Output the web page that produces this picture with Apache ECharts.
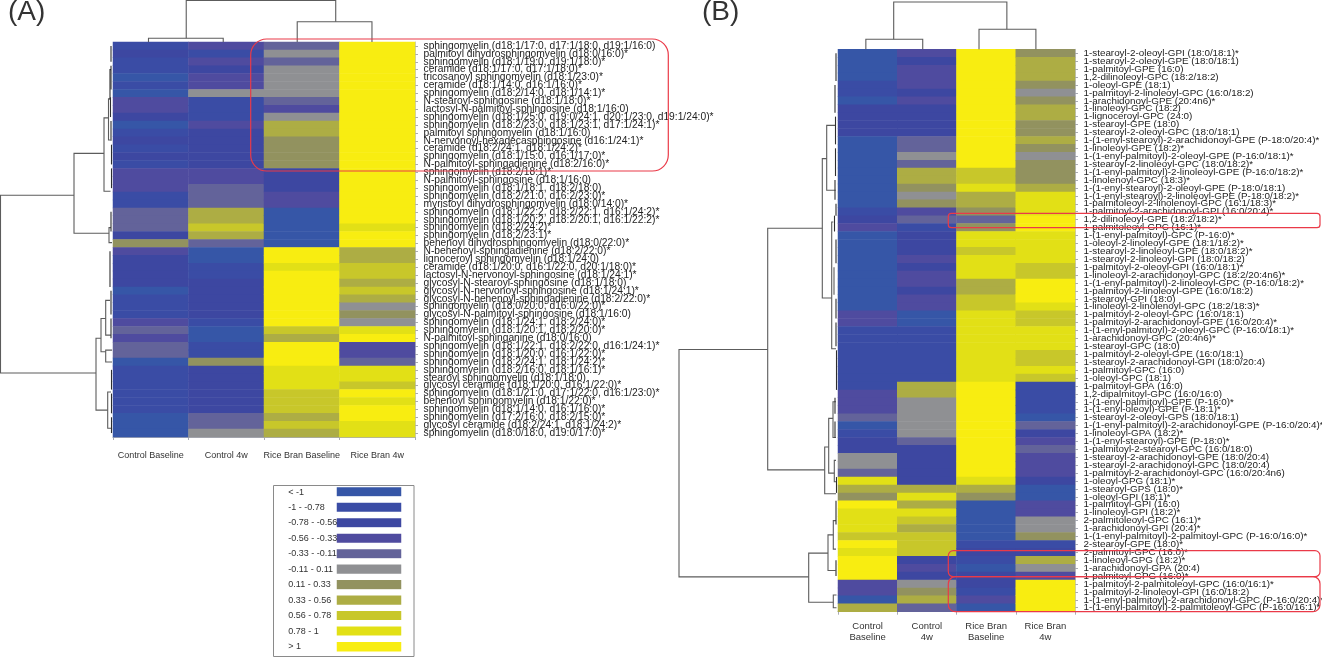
<!DOCTYPE html>
<html><head><meta charset="utf-8">
<style>html,body{margin:0;padding:0;background:#fff}#c{width:1322px;height:665px}</style>
<script src="https://cdn.jsdelivr.net/npm/echarts@6/dist/echarts.min.js"></script>
</head><body><div id="c"></div>
<script>
// Legend bins (label, lower edge, upper edge, representative z-score, colour)
const binLabels = ['< -1','-1 - -0.78','-0.78 - -0.56','-0.56 - -0.33','-0.33 - -0.11','-0.11 - 0.11','0.11 - 0.33','0.33 - 0.56','0.56 - 0.78','0.78 - 1','> 1'];
const binEdges = [-9,-1,-0.78,-0.56,-0.33,-0.11,0.11,0.33,0.56,0.78,1,9];
const binMids = [-1.2,-0.89,-0.67,-0.45,-0.22,0,0.22,0.45,0.67,0.89,1.2];
const binColors = ['#3656a7','#3a4ca5','#3d47a1','#4f4b9f','#63639a','#8f9093','#92925f','#adad44','#c8c72a','#e2e016','#f8ed11'];

const columnsA = ['Control Baseline','Control 4w','Rice Bran Baseline','Rice Bran 4w'];
const columnsB = ['Control\nBaseline','Control\n4w','Rice Bran\nBaseline','Rice Bran\n4w'];

const lipidsA = [
'sphingomyelin (d18:1/17:0, d17:1/18:0, d19:1/16:0)','palmitoyl dihydrosphingomyelin (d18:0/16:0)*','sphingomyelin (d18:1/19:0, d19:1/18:0)*','ceramide (d18:1/17:0, d17:1/18:0)*','tricosanoyl sphingomyelin (d18:1/23:0)*','ceramide (d18:1/14:0, d16:1/16:0)*','sphingomyelin (d18:2/14:0, d18:1/14:1)*','N-stearoyl-sphingosine (d18:1/18:0)*','lactosyl-N-palmitoyl-sphingosine (d18:1/16:0)','sphingomyelin (d18:1/25:0, d19:0/24:1, d20:1/23:0, d19:1/24:0)*',
'sphingomyelin (d18:2/23:0, d18:1/23:1, d17:1/24:1)*','palmitoyl sphingomyelin (d18:1/16:0)','N-nervonoyl-hexadecasphingosine (d16:1/24:1)*','ceramide (d18:2/24:1, d18:1/24:2)*','sphingomyelin (d18:1/15:0, d16:1/17:0)*','N-palmitoyl-sphingadienine (d18:2/16:0)*','sphingomyelin (d18:2/18:1)*','N-palmitoyl-sphingosine (d18:1/16:0)','sphingomyelin (d18:1/18:1, d18:2/18:0)','sphingomyelin (d18:2/21:0, d16:2/23:0)*',
'myristoyl dihydrosphingomyelin (d18:0/14:0)*','sphingomyelin (d18:1/22:2, d18:2/22:1, d16:1/24:2)*','sphingomyelin (d18:1/20:2, d18:2/20:1, d16:1/22:2)*','sphingomyelin (d18:2/24:2)*','sphingomyelin (d18:2/23:1)*','behenoyl dihydrosphingomyelin (d18:0/22:0)*','N-behenoyl-sphingadienine (d18:2/22:0)*','lignoceroyl sphingomyelin (d18:1/24:0)','ceramide (d18:1/20:0, d16:1/22:0, d20:1/18:0)*','lactosyl-N-nervonoyl-sphingosine (d18:1/24:1)*',
'glycosyl-N-stearoyl-sphingosine (d18:1/18:0)','glycosyl-N-nervonoyl-sphingosine (d18:1/24:1)*','glycosyl-N-behenoyl-sphingadienine (d18:2/22:0)*','sphingomyelin (d18:0/20:0, d16:0/22:0)*','glycosyl-N-palmitoyl-sphingosine (d18:1/16:0)','sphingomyelin (d18:1/24:1, d18:2/24:0)*','sphingomyelin (d18:1/20:1, d18:2/20:0)*','N-palmitoyl-sphinganine (d18:0/16:0)','sphingomyelin (d18:1/22:1, d18:2/22:0, d16:1/24:1)*','sphingomyelin (d18:1/20:0, d16:1/22:0)*',
'sphingomyelin (d18:2/24:1, d18:1/24:2)*','sphingomyelin (d18:2/16:0, d18:1/16:1)*','stearoyl sphingomyelin (d18:1/18:0)','glycosyl ceramide (d18:1/20:0, d16:1/22:0)*','sphingomyelin (d18:1/21:0, d17:1/22:0, d16:1/23:0)*','behenoyl sphingomyelin (d18:1/22:0)*','sphingomyelin (d18:1/14:0, d16:1/16:0)*','sphingomyelin (d17:2/16:0, d18:2/15:0)*','glycosyl ceramide (d18:2/24:1, d18:1/24:2)*','sphingomyelin (d18:0/18:0, d19:0/17:0)*'];

// Panel A: legend-bin index read per row, one list per column
const controlBaselineA = [1,2,1,1,0,1,0,3,3,2,0,1,2,1,2,1,3,3,3,1,1,4,4,4,2,6,3,2,2,2,2,0,1,1,1,3,4,3,4,4,0,1,1,1,1,1,1,0,0,0];
const control4wA       = [3,1,3,2,3,3,5,1,1,1,3,2,2,2,2,2,3,3,4,4,4,7,7,8,7,4,0,0,1,1,2,2,2,2,2,1,0,0,1,1,6,2,2,2,2,2,2,4,4,5];
const riceBaselineA    = [4,5,4,5,5,5,5,4,3,5,7,7,6,6,6,6,2,2,2,3,3,0,0,0,0,0,10,10,9,10,10,10,10,10,10,10,8,7,10,10,10,9,9,9,8,8,8,7,8,7];
const rice4wA          = [10,10,10,10,10,10,10,10,10,10,10,10,10,10,10,10,10,10,10,10,10,10,10,9,10,10,7,7,8,8,7,8,7,5,6,5,9,10,3,3,4,9,9,8,10,9,10,10,9,9];

const lipidsB = [
'1-stearoyl-2-oleoyl-GPI (18:0/18:1)*','1-stearoyl-2-oleoyl-GPE (18:0/18:1)','1-palmitoyl-GPE (16:0)','1,2-dilinoleoyl-GPC (18:2/18:2)','1-oleoyl-GPE (18:1)','1-palmitoyl-2-linoleoyl-GPC (16:0/18:2)','1-arachidonoyl-GPE (20:4n6)*','1-linoleoyl-GPC (18:2)','1-lignoceroyl-GPC (24:0)','1-stearoyl-GPE (18:0)',
'1-stearoyl-2-oleoyl-GPC (18:0/18:1)','1-(1-enyl-stearoyl)-2-arachidonoyl-GPE (P-18:0/20:4)*','1-linoleoyl-GPE (18:2)*','1-(1-enyl-palmitoyl)-2-oleoyl-GPE (P-16:0/18:1)*','1-stearoyl-2-linoleoyl-GPC (18:0/18:2)*','1-(1-enyl-palmitoyl)-2-linoleoyl-GPE (P-16:0/18:2)*','1-linolenoyl-GPC (18:3)*','1-(1-enyl-stearoyl)-2-oleoyl-GPE (P-18:0/18:1)','1-(1-enyl-stearoyl)-2-linoleoyl-GPE (P-18:0/18:2)*','1-palmitoleoyl-2-linolenoyl-GPC (16:1/18:3)*',
'1-palmitoyl-2-arachidonoyl-GPI (16:0/20:4)*','1,2-dilinoleoyl-GPE (18:2/18:2)*','1-palmitoleoyl-GPC (16:1)*','1-(1-enyl-palmitoyl)-GPC (P-16:0)*','1-oleoyl-2-linoleoyl-GPE (18:1/18:2)*','1-stearoyl-2-linoleoyl-GPE (18:0/18:2)*','1-stearoyl-2-linoleoyl-GPI (18:0/18:2)','1-palmitoyl-2-oleoyl-GPI (16:0/18:1)*','1-linoleoyl-2-arachidonoyl-GPC (18:2/20:4n6)*','1-(1-enyl-palmitoyl)-2-linoleoyl-GPC (P-16:0/18:2)*',
'1-palmitoyl-2-linoleoyl-GPE (16:0/18:2)','1-stearoyl-GPI (18:0)','1-linoleoyl-2-linolenoyl-GPC (18:2/18:3)*','1-palmitoyl-2-oleoyl-GPC (16:0/18:1)','1-palmitoyl-2-arachidonoyl-GPE (16:0/20:4)*','1-(1-enyl-palmitoyl)-2-oleoyl-GPC (P-16:0/18:1)*','1-arachidonoyl-GPC (20:4n6)*','1-stearoyl-GPC (18:0)','1-palmitoyl-2-oleoyl-GPE (16:0/18:1)','1-stearoyl-2-arachidonoyl-GPI (18:0/20:4)',
'1-palmitoyl-GPC (16:0)','1-oleoyl-GPC (18:1)','1-palmitoyl-GPA (16:0)','1,2-dipalmitoyl-GPC (16:0/16:0)','1-(1-enyl-palmitoyl)-GPE (P-16:0)*','1-(1-enyl-oleoyl)-GPE (P-18:1)*','1-stearoyl-2-oleoyl-GPS (18:0/18:1)','1-(1-enyl-palmitoyl)-2-arachidonoyl-GPE (P-16:0/20:4)*','1-linoleoyl-GPA (18:2)*','1-(1-enyl-stearoyl)-GPE (P-18:0)*',
'1-palmitoyl-2-stearoyl-GPC (16:0/18:0)','1-stearoyl-2-arachidonoyl-GPE (18:0/20:4)','1-stearoyl-2-arachidonoyl-GPC (18:0/20:4)','1-palmitoyl-2-arachidonoyl-GPC (16:0/20:4n6)','1-oleoyl-GPG (18:1)*','1-stearoyl-GPS (18:0)*','1-oleoyl-GPI (18:1)*','1-palmitoyl-GPI (16:0)','1-linoleoyl-GPI (18:2)*','2-palmitoleoyl-GPC (16:1)*',
'1-arachidonoyl-GPI (20:4)*','1-(1-enyl-palmitoyl)-2-palmitoyl-GPC (P-16:0/16:0)*','2-stearoyl-GPE (18:0)*','2-palmitoyl-GPC (16:0)*','1-linoleoyl-GPG (18:2)*','1-arachidonoyl-GPA (20:4)','1-palmitoyl-GPG (16:0)*','1-palmitoyl-2-palmitoleoyl-GPC (16:0/16:1)*','1-palmitoyl-2-linoleoyl-GPI (16:0/18:2)','1-(1-enyl-palmitoyl)-2-arachidonoyl-GPC (P-16:0/20:4)*',
'1-(1-enyl-palmitoyl)-2-palmitoleoyl-GPC (P-16:0/16:1)*'];

// Panel B: legend-bin index read per row, one list per column
const controlBaselineB = [0,0,0,0,1,1,0,2,2,2,2,0,0,0,0,0,0,0,0,0,1,2,3,0,0,0,0,0,0,0,0,0,0,3,3,1,1,1,1,1,1,1,1,3,3,3,4,0,1,2,2,5,5,4,9,7,6,10,9,9,9,8,10,9,10,10,10,3,3,0,7];
const control4wB       = [3,2,3,3,3,2,3,2,2,2,2,4,4,5,4,7,7,6,5,6,3,4,1,2,2,2,3,2,3,3,2,3,3,0,0,1,1,1,1,1,1,1,7,7,5,5,5,5,5,4,2,2,2,2,2,7,9,7,9,8,7,8,8,8,2,3,2,5,6,7,4];
const riceBaselineB    = [10,10,10,10,10,10,10,10,10,10,10,10,10,10,10,8,8,9,7,7,6,4,6,9,9,8,9,9,9,7,7,8,8,9,9,9,9,9,9,9,9,9,10,10,10,10,10,10,10,10,10,10,10,10,9,7,6,0,0,0,0,0,1,2,1,0,2,2,1,3,0];
const rice4wB          = [6,7,7,7,6,5,6,7,7,6,6,7,6,5,6,6,6,7,9,9,9,10,10,9,9,9,9,8,8,10,10,10,9,8,8,9,9,9,8,8,9,8,1,1,1,1,0,4,2,3,4,3,3,3,2,0,0,3,3,5,5,6,1,2,7,5,3,10,10,10,10];

// Dendrogram brackets: [bar height, from, to, arm-end height at from, arm-end height at to]
const rowTreeA = [[112.5,19.4,41.9,39,17],[39,14.1,24.2,9,4],[9,9.6,18.9,4.5,2.5],[4.5,7.2,12.4,3,2.5],[3,3.5,7.2,2,2],[4,23.5,25.4,2,1],
 [17,37.5,46.6,12,5.3],[12,35,39.2,7.3,7.3],[7.3,32.7,37.1,3,2],[7.3,39,40.5,1,1],[5.3,44.3,48.9,2,2],
 [2,0.5,2.5,2,2],[2,3,6,2,2],[2.5,7,9.5,2.5,2.5],[2,10,12.5,2,2],[1.5,13,15.5,1.5,1.5],[1.5,16,18.5,1.5,1.5],[2,21.5,24,2,2],[3,26.5,31,3,3],[2,31.5,34.5,2,2],[2,35,37.5,2,2],[1.5,41.5,44,1.5,1.5],[1.5,44.5,47,1.5,1.5],[1.5,47.5,49.5,1.5,1.5]];
const rowTreeB = [[159,37.9,66.6,70.3,29.3],[70.3,22.6,53.1,15.7,13.3],[15.7,13.8,31.4,11.3,6.3],[11.3,9.6,17.8,2.3,2.3],[6.3,21.8,37.8,4.7,2],
 [13.3,50.2,56.1,9.3,2],[9.3,46.6,53.5,5,3.7],[5,44.5,49,2,2],[3.7,51.9,54.6,2,2],[29.3,63.6,69.8,10,4.7],[10,61.3,65.8,4.7,2.3],[4.7,59.5,63.1,2,2],[4.7,68.9,70.5,1.5,1.5],
 [2,0.5,4,2,2],[3,4.5,8,3,3],[2.5,8.5,12,2.5,2.5],[2.5,12.5,16,2.5,2.5],[3,16.5,19,3,3],[2,19.5,21,2,2],[3.5,21,23,3.5,3.5],[2,24,27,2,2],[4,27.5,31,4,4],[2,31.5,34,2,2],[2,34.5,37.5,2,2],[1.5,38,43,1.5,1.5],[3,44,46,3,3],[3,47,49,3,3],[1.5,54,56,1.5,1.5],[2,57,60,2,2],[2,64.5,66.5,2,2]];
const colTreeA = [[3.7,0.47,1.46,0,0],[41.5,0.97,2.95,3.7,20.3],[20.3,2.44,3.43,0,0]];
const colTreeB = [[10,0.47,1.43,0,0],[47.3,0.94,2.85,10,20],[20,2.38,3.34,0,0]];

function cells(cols){
  const out=[];
  cols.forEach((col,c)=>col.forEach((b,r)=>out.push([c,r,binMids[b]])));
  return out;
}
const font='"Liberation Sans",Arial,sans-serif';
const noBounds={containLabel:false,outerBoundsMode:'none'};

function panel(idx,gridBox,cols,rows,columns,labelSize,labelMargin,xMargin,xSize){
  return {
    grid:Object.assign({},noBounds,gridBox),
    x:{type:'category',gridIndex:idx,data:columns,position:'bottom',boundaryGap:true,
       axisLine:{onZero:false,lineStyle:{color:'#a9abb5',width:1}},
       axisTick:{show:true,length:3,alignWithLabel:false,interval:0,lineStyle:{color:'#a9abb5'}},
       axisLabel:{fontFamily:font,fontSize:xSize,color:'#333',margin:xMargin,interval:0,lineHeight:10.7},splitLine:{show:false}},
    y:{type:'category',gridIndex:idx,data:rows,position:'right',inverse:true,boundaryGap:true,
       axisLine:{show:true,onZero:false,lineStyle:{color:'#c5c7cc',width:1}},
       axisTick:{show:true,length:3,alignWithLabel:true,interval:0,lineStyle:{color:'#a9abb5'}},
       axisLabel:{fontFamily:font,fontSize:labelSize,color:'#222',margin:labelMargin,interval:0,hideOverlap:false},splitLine:{show:false}},
    s:{type:'heatmap',xAxisIndex:idx,yAxisIndex:idx,data:cells(cols),progressive:0,silent:true,itemStyle:{borderWidth:0},emphasis:{disabled:true}}
  };
}
const A=panel(0,{left:113,top:42,width:302,height:395},[controlBaselineA,control4wA,riceBaselineA,rice4wA],lipidsA,columnsA,10.25,8.5,13,9);
const B=panel(1,{left:838,top:49.3,width:237,height:562.4},[controlBaselineB,control4wB,riceBaselineB,rice4wB],lipidsB,columnsB,9.85,8.5,9.5,9.5);

// Legend drawn as a single-column heatmap so swatches share the colour scale
const legendGrid=Object.assign({},noBounds,{left:333.8,top:484.3,width:70.4,height:170.2});
const legendX={type:'category',gridIndex:2,data:['bin'],show:false};
const legendY={type:'category',gridIndex:2,data:binLabels,inverse:true,position:'left',z:8,
  axisLine:{show:false},axisTick:{show:false},
  axisLabel:{fontFamily:font,fontSize:9,color:'#333',align:'left',margin:45.5,interval:0,overflow:'none'}};
const legendSeries={type:'heatmap',xAxisIndex:2,yAxisIndex:2,silent:true,data:binMids.map((v,i)=>[0,i,v]),
  itemStyle:{borderColor:'#fff',borderWidth:6.4},emphasis:{disabled:true}};

function hiddenValue(idx,min,max,inverse){return {type:'value',gridIndex:idx,min,max,inverse,show:false,scale:true};}
function treeSeries(idx,data,horizontal){
  return {type:'custom',xAxisIndex:idx,yAxisIndex:idx,silent:true,clip:false,data,
    encode:{x:0,y:1},
    renderItem(p,api){
      const h=api.value(0),a=api.value(1),b=api.value(2),ha=api.value(3),hb=api.value(4);
      const pts=(horizontal?[[ha,a],[h,a],[h,b],[hb,b]]:[[a,ha],[a,h],[b,h],[b,hb]]).map(q=>api.coord(q));
      return {type:'polyline',shape:{points:pts},style:{fill:null,stroke:h<=3.5?'#2e2e2e':'#5c5c5c',lineWidth:1.1}};
    }};
}
// dendrogram grids
const treeGrids=[
 {left:0,top:42,width:113,height:395},
 {left:679,top:49.3,width:159,height:562.4},
 {left:113,top:0,width:302,height:42},
 {left:838,top:0,width:237,height:49.3}].map(g=>Object.assign({},noBounds,g));
const treeX=[hiddenValue(3,0,113,true),hiddenValue(4,0,159,true),hiddenValue(5,0,4,false),hiddenValue(6,0,4,false)];
const treeY=[hiddenValue(3,0,50,true),hiddenValue(4,0,71,true),hiddenValue(5,0,42,false),hiddenValue(6,0,49.3,false)];

const red='#ea3a48';
const chart=echarts.init(document.getElementById('c'),null,{renderer:'canvas'});
chart.setOption({
  animation:false,backgroundColor:'#fff',
  grid:[A.grid,B.grid,legendGrid,...treeGrids],
  xAxis:[A.x,B.x,legendX,...treeX],
  yAxis:[A.y,B.y,legendY,...treeY],
  visualMap:{type:'piecewise',show:false,seriesIndex:[0,1,2],
    pieces:binColors.map((c,i)=>({gte:binEdges[i],lt:binEdges[i+1],color:c}))},
  series:[A.s,B.s,legendSeries,
    treeSeries(3,rowTreeA,true),treeSeries(4,rowTreeB,true),
    treeSeries(5,colTreeA,false),treeSeries(6,colTreeB,false)],
  graphic:[
    {type:'text',left:8,top:-2,style:{text:'(A)',fontFamily:font,fontSize:28,fill:'#333'}},
    {type:'text',left:702,top:-2,style:{text:'(B)',fontFamily:font,fontSize:28,fill:'#333'}},
    {type:'rect',shape:{x:273.5,y:485.5,width:140.5,height:171},style:{fill:null,stroke:'#8a8a8a',lineWidth:1},silent:true,z:60},
    {type:'rect',shape:{x:250.7,y:39,width:417.6,height:132,r:16},style:{fill:null,stroke:red,lineWidth:1.2},silent:true,z:50},
    {type:'rect',shape:{x:948.3,y:213.3,width:371.7,height:14.4,r:3},style:{fill:null,stroke:red,lineWidth:1.2},silent:true,z:50},
    {type:'rect',shape:{x:948.3,y:550.7,width:371.7,height:26,r:5},style:{fill:null,stroke:red,lineWidth:1.2},silent:true,z:50},
    {type:'rect',shape:{x:948.3,y:576.7,width:371.7,height:35,r:7},style:{fill:null,stroke:red,lineWidth:1.2},silent:true,z:50}
  ]
});
</script></body></html>
